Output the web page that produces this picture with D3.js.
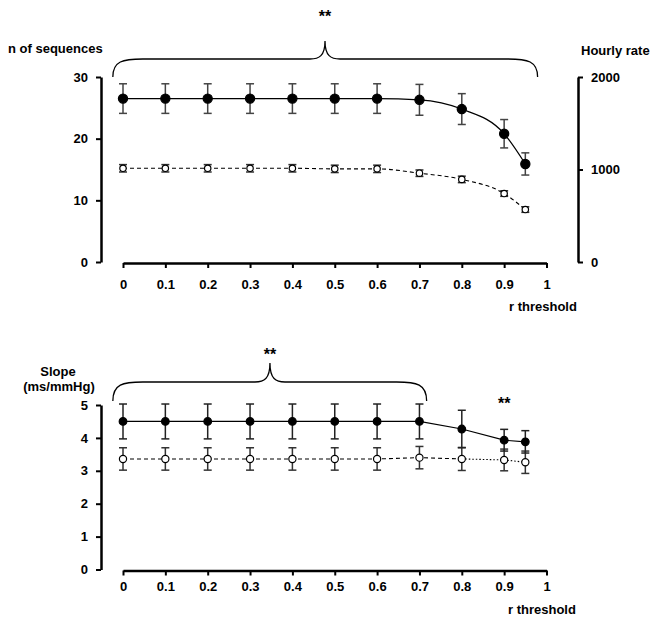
<!DOCTYPE html>
<html>
<head>
<meta charset="utf-8">
<script src="https://cdn.jsdelivr.net/npm/d3@7"></script>
<style>
body{margin:0;background:#fff;}
svg text{font-family:"Liberation Sans",Arial,sans-serif;font-weight:bold;}
</style>
</head>
<body>
<svg id="c" width="657" height="623"></svg>
<script>
// ---- data ----
const thresholds = [0, 0.1, 0.2, 0.3, 0.4, 0.5, 0.6, 0.7, 0.8, 0.9, 0.95];
const xTicks = [0, 0.1, 0.2, 0.3, 0.4, 0.5, 0.6, 0.7, 0.8, 0.9, 1];
const xTickLabels = ["0", "0.1", "0.2", "0.3", "0.4", "0.5", "0.6", "0.7", "0.8", "0.9", "1"];

const nSeqMean = [26.5, 26.5, 26.5, 26.5, 26.5, 26.5, 26.5, 26.3, 24.8, 20.8, 15.9];
const nSeqErr  = [2.4, 2.4, 2.4, 2.4, 2.4, 2.4, 2.4, 2.5, 2.5, 2.3, 1.8];
const hourlyMean = [1013, 1013, 1013, 1013, 1013, 1007, 1007, 960, 893, 740, 567];
const hourlyErr  = [40, 40, 40, 40, 40, 40, 40, 35, 35, 30, 30];

const slopeA = [4.5, 4.5, 4.5, 4.5, 4.5, 4.5, 4.5, 4.5, 4.27, 3.93, 3.88];
const slopeAErr = [0.53, 0.53, 0.53, 0.53, 0.53, 0.53, 0.53, 0.53, 0.57, 0.33, 0.34];
const slopeB = [3.36, 3.36, 3.36, 3.36, 3.36, 3.36, 3.36, 3.40, 3.36, 3.33, 3.26];
const slopeBErr = [0.34, 0.34, 0.34, 0.34, 0.34, 0.34, 0.34, 0.34, 0.35, 0.33, 0.34];

const nSeqTicks = [0, 10, 20, 30];
const hourlyTicks = [0, 1000, 2000];
const slopeTicks = [0, 1, 2, 3, 4, 5];

// ---- drawing ----
const svg = d3.select("#c");
const x = d3.scaleLinear().domain([0, 1]).range([123, 546.5]);
const yL = d3.scaleLinear().domain([0, 30]).range([262, 77]);
const yR = d3.scaleLinear().domain([0, 2000]).range([262, 77]);
const yS = d3.scaleLinear().domain([0, 5]).range([569.5, 405]);
const FS = 13;

function styleAxis(g, fs) {
  g.select(".domain").attr("stroke", "#000").attr("stroke-width", 2.5);
  g.selectAll(".tick line").attr("stroke", "#000").attr("stroke-width", 2);
  g.selectAll(".tick text").attr("font-size", fs).attr("fill", "#000")
    .attr("font-family", "Liberation Sans, Arial, sans-serif").attr("font-weight", "bold");
}

function xAxis(yPos, pad) {
  const g = svg.append("g").attr("transform", `translate(0,${yPos})`)
    .call(d3.axisBottom(x).tickValues(xTicks).tickFormat((d, i) => xTickLabels[i])
      .tickSize(5).tickSizeOuter(0).tickPadding(pad));
  styleAxis(g, FS);
}

// top chart axes
let g = svg.append("g").attr("transform", "translate(101,0)")
  .call(d3.axisLeft(yL).tickValues(nSeqTicks).tickFormat(d3.format("d")).tickSize(5).tickSizeOuter(0).tickPadding(8));
styleAxis(g, FS);
g = svg.append("g").attr("transform", "translate(578,0)")
  .call(d3.axisRight(yR).tickValues(hourlyTicks).tickFormat(d3.format("d")).tickSize(5).tickSizeOuter(0).tickPadding(8));
styleAxis(g, FS);
xAxis(263, 12);

// bottom chart axes
g = svg.append("g").attr("transform", "translate(101,0)")
  .call(d3.axisLeft(yS).tickValues(slopeTicks).tickFormat(d3.format("d")).tickSize(5).tickSizeOuter(0).tickPadding(8));
styleAxis(g, FS);
xAxis(570.5, 6);

function series(means, errs, yScale, opts) {
  const pts = thresholds.map((t, i) => ({x: t, y: means[i], e: errs[i], i}));
  const segs = opts.segments || [{from: 0, to: pts.length - 1, dash: opts.dash}];
  segs.forEach(s => {
    const line = d3.line().x(d => x(d.x)).y(d => yScale(d.y)).curve(opts.curve || d3.curveLinear);
    svg.append("path").datum(pts.slice(s.from, s.to + 1))
      .attr("d", line).attr("fill", "none").attr("stroke", "#000")
      .attr("stroke-width", opts.lw || 1.2).attr("stroke-dasharray", s.dash || null);
  });
  const eb = svg.append("g").attr("stroke", opts.ebColor || "#333").attr("stroke-width", 1.5);
  pts.forEach(d => {
    const cx = x(d.x), y1 = yScale(d.y + d.e), y2 = yScale(d.y - d.e);
    eb.append("line").attr("x1", cx).attr("x2", cx).attr("y1", y1).attr("y2", y2);
    eb.append("line").attr("x1", cx - 4).attr("x2", cx + 4).attr("y1", y1).attr("y2", y1);
    eb.append("line").attr("x1", cx - 4).attr("x2", cx + 4).attr("y1", y2).attr("y2", y2);
  });
  svg.append("g").selectAll("circle").data(pts).join("circle")
    .attr("cx", d => x(d.x)).attr("cy", d => yScale(d.y)).attr("r", opts.r)
    .attr("fill", opts.fill).attr("stroke", "#000").attr("stroke-width", 1.2);
}

series(hourlyMean, hourlyErr, yR, {fill: "#fff", r: 3.2, dash: "4,3", curve: d3.curveMonotoneX, lw: 1.1});
series(nSeqMean, nSeqErr, yL, {fill: "#000", r: 4.6, curve: d3.curveMonotoneX, ebColor: "#444"});
series(slopeB, slopeBErr, yS, {fill: "#fff", r: 3.6, lw: 1.1,
  segments: [{from: 0, to: 8, dash: "4,3"}, {from: 8, to: 10, dash: "1.5,2"}]});
series(slopeA, slopeAErr, yS, {fill: "#000", r: 3.8, ebColor: "#222"});

// braces
function brace(x0, x1, xm, yBase, h1, h2) {
  const a = x(x0), b = x(x1), m = x(xm);
  const top = yBase - h1, peak = yBase - h2, r = 30;
  const p = d3.path();
  p.moveTo(a, yBase);
  p.bezierCurveTo(a, top + 2, a + 10, top, a + r, top);
  p.lineTo(m - 15, top);
  p.bezierCurveTo(m - 6, top, m, top - 3, m, peak);
  p.bezierCurveTo(m, top - 3, m + 6, top, m + 15, top);
  p.lineTo(b - r, top);
  p.bezierCurveTo(b - 10, top, b, top + 2, b, yBase);
  svg.append("path").attr("d", p.toString()).attr("fill", "none")
    .attr("stroke", "#000").attr("stroke-width", 1.3);
}
brace(-0.024, 0.979, 0.477, 77, 18, 36);
brace(-0.024, 0.717, 0.347, 401, 19, 38);

function txt(s, tx, ty, anchor, fs) {
  svg.append("text").attr("x", tx).attr("y", ty).attr("text-anchor", anchor || "start")
    .attr("font-size", fs || FS).attr("fill", "#000").text(s);
}
txt("**", x(0.477), 22, "middle", 16);
txt("**", x(0.347), 360, "middle", 16);
txt("**", x(0.9), 409, "middle", 16);

txt("n of sequences", 8, 53);
txt("Hourly rate", 581, 55);
txt("r threshold", 509, 311);
txt("Slope", 58, 376, "middle");
txt("(ms/mmHg)", 59, 391, "middle");
txt("r threshold", 508, 614);
</script>
</body>
</html>
